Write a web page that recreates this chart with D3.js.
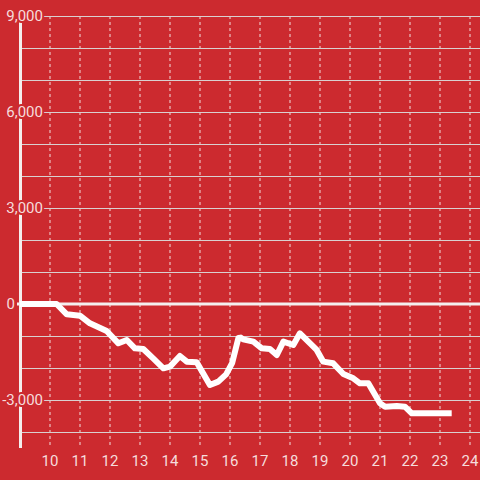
<!DOCTYPE html>
<html><head><meta charset="utf-8">
<script src="https://cdn.jsdelivr.net/npm/d3@7"></script>
<style>
html,body{margin:0;padding:0;background:#cc2a2f;}
svg{display:block;}
text{font-family:Roboto,"Liberation Sans",sans-serif;}
</style></head>
<body>
<svg id="chart" width="480" height="480"></svg>
<script>
const hours = [9, 10.22, 10.56, 11, 11.33, 11.89, 12.28, 12.56, 12.83, 13.11, 13.44, 13.78, 14.0, 14.33, 14.56, 14.89, 15.33, 15.61, 15.87, 16.07, 16.28, 16.36, 16.44, 16.78, 17.06, 17.33, 17.56, 17.78, 18.11, 18.33, 18.67, 18.89, 19.11, 19.44, 19.78, 20.11, 20.33, 20.61, 21.0, 21.17, 21.56, 21.83, 22.06, 23.39];
const values = [0, 0, -322, -365, -604, -844, -1229, -1125, -1385, -1406, -1698, -2010, -1958, -1625, -1802, -1822, -2531, -2427, -2200, -1850, -1062, -1050, -1104, -1177, -1385, -1406, -1594, -1177, -1281, -917, -1229, -1437, -1802, -1854, -2187, -2323, -2479, -2479, -3104, -3208, -3187, -3208, -3417, -3417];
const xTicks = [10, 11, 12, 13, 14, 15, 16, 17, 18, 19, 20, 21, 22, 23, 24];
const yGrid = [9000, 8000, 7000, 6000, 5000, 4000, 3000, 2000, 1000, 0, -1000, -2000, -3000, -4000];
const yLabels = [9000, 6000, 3000, 0, -3000];

const svg = d3.select("#chart");
const x = d3.scaleLinear().domain([9, 25]).range([20, 500]);
const y = d3.scaleLinear().domain([-4000, 9000]).range([432, 16]);
const red = "#cc2a2f";

// vertical dashed grid
svg.append("g").selectAll("line").data(xTicks).join("line")
  .attr("x1", d => x(d)).attr("x2", d => x(d))
  .attr("y1", 16).attr("y2", 448)
  .attr("stroke", "#f2dede").attr("stroke-width", 1)
  .attr("stroke-dasharray", "3,3");

// horizontal grid
svg.append("g").selectAll("line").data(yGrid.filter(d => d !== 0)).join("line")
  .attr("x1", 20).attr("x2", 480)
  .attr("y1", d => y(d) + 0.5).attr("y2", d => y(d) + 0.5)
  .attr("stroke", "#d9d0d0").attr("stroke-width", 1.2);

// y axis bar
svg.append("line").attr("x1", 20.5).attr("x2", 20.5).attr("y1", 16).attr("y2", 448)
  .attr("stroke", "#f4eeee").attr("stroke-width", 3);

// zero line
svg.append("line").attr("x1", 17).attr("x2", 480)
  .attr("y1", y(0)).attr("y2", y(0))
  .attr("stroke", "#f4eeee").attr("stroke-width", 3);

// y labels with halo
svg.append("g").selectAll("text").data(yLabels).join("text")
  .attr("x", d => d === 0 ? 15 : 43).attr("y", d => y(d) + 5)
  .attr("text-anchor", "end")
  .attr("font-size", 15)
  .attr("fill", "#f6dcdc")
  .attr("stroke", red).attr("stroke-width", 4)
  .attr("paint-order", "stroke")
  .text(d => d3.format(",")(d).replace("−", "-"));

// x labels
svg.append("g").selectAll("text").data(xTicks).join("text")
  .attr("x", d => x(d)).attr("y", 466)
  .attr("text-anchor", "middle")
  .attr("font-size", 15)
  .attr("fill", "#f6dcdc")
  .text(d => d);

// data line
const pts = hours.map((h, i) => [h, values[i]]);
svg.append("path").datum(pts)
  .attr("d", d3.line().x(d => x(d[0])).y(d => y(d[1])))
  .attr("fill", "none").attr("stroke", "#ffffff")
  .attr("stroke-width", 6).attr("stroke-linejoin", "round");
</script>
</body></html>
